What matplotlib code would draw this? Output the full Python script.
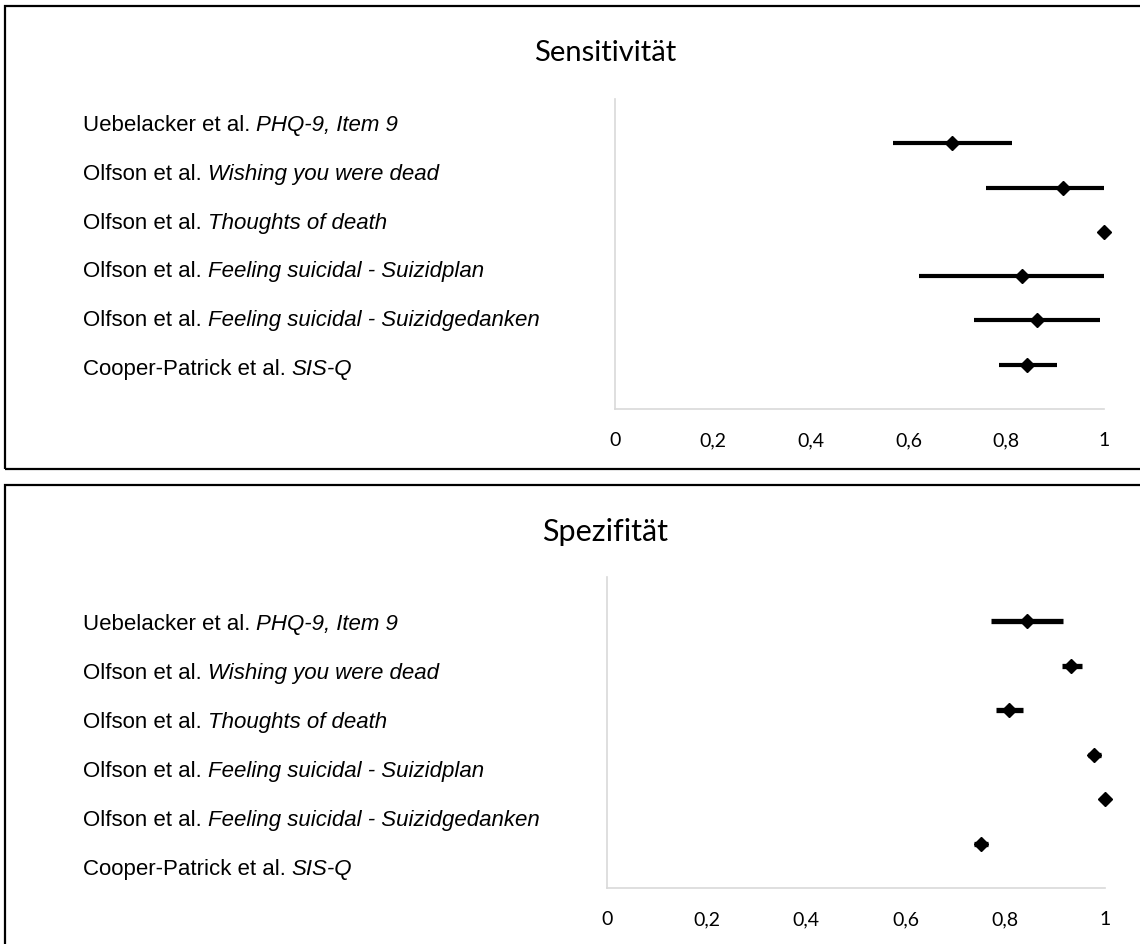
import matplotlib
matplotlib.use("Agg")
import matplotlib.pyplot as plt
from matplotlib.patches import Rectangle
from matplotlib.ticker import FuncFormatter

#data (two forest plots, same studies)
authors = ["Uebelacker et al.", "Olfson et al.", "Olfson et al.", "Olfson et al.",
           "Olfson et al.", "Cooper-Patrick et al."]
items = ["PHQ-9, Item 9", "Wishing you were dead", "Thoughts of death",
         "Feeling suicidal - Suizidplan", "Feeling suicidal - Suizidgedanken", "SIS-Q"]

sens_est = [0.689, 0.917, 1.0, 0.833, 0.862, 0.843]
sens_lo = [0.569, 0.758, 1.0, 0.621, 0.735, 0.785]
sens_hi = [0.811, 1.0, 1.0, 1.0, 0.991, 0.904]

spec_est = [0.843, 0.931, 0.808, 0.977, 1.0, 0.751]
spec_lo = [0.771, 0.913, 0.782, 0.965, 0.99, 0.737]
spec_hi = [0.915, 0.953, 0.836, 0.991, 1.0, 0.766]

xticks = [0, 0.2, 0.4, 0.6, 0.8, 1]

W, H = 1140, 945
fig = plt.figure(figsize=(W / 100, H / 100), dpi=100)

LABEL_FONT = ["Liberation Sans", "DejaVu Sans"]
EXCEL_FONT = ["Lato", "DejaVu Sans"]


def px(x, y):
    # pixel (from top-left) -> figure fraction
    return x / W, 1 - y / H


def panel(title, est, lo, hi, box, ax_box, title_y, title_size, label_y0, label_dy, lw):
    # frame round the panel
    bx0, by0, bx1, by1 = box
    fx0, fy1 = px(bx0, by0)
    fx1, fy0 = px(bx1, by1)
    fig.patches.append(Rectangle((fx0, fy0), fx1 - fx0, fy1 - fy0, transform=fig.transFigure,
                                 fill=False, edgecolor="black", linewidth=1.6, clip_on=False))

    tx, ty = px(605, title_y)
    fig.text(tx, ty, title, ha="center", va="center", fontsize=title_size, family=EXCEL_FONT)

    l, t, r, b = ax_box
    ax = fig.add_axes([l / W, 1 - b / H, (r - l) / W, (b - t) / H])
    rows = list(range(1, len(est) + 1))
    xerr = [[e - a for e, a in zip(est, lo)], [c - e for e, c in zip(est, hi)]]
    ax.errorbar(est, rows, xerr=xerr, fmt="D", color="black", markersize=7.5,
                elinewidth=lw, capsize=0, clip_on=False)
    ax.set_xlim(0, 1)
    ax.set_ylim(7, 0)
    ax.set_yticks([])
    ax.set_xticks(xticks)
    ax.xaxis.set_major_formatter(FuncFormatter(lambda v, p: ("%g" % v).replace(".", ",")))
    ax.tick_params(axis="x", length=0, pad=16, labelsize=14)
    for lab in ax.get_xticklabels():
        lab.set_family(EXCEL_FONT)
    for s in ["top", "right"]:
        ax.spines[s].set_visible(False)
    for s in ["left", "bottom"]:
        ax.spines[s].set_color("#d9d9d9")
        ax.spines[s].set_linewidth(1.2)

    # labels: author upright, item italic
    renderer = fig.canvas.get_renderer()
    for i, (a, it) in enumerate(zip(authors, items)):
        x0, yb = px(83, label_y0 + i * label_dy + 8)
        t1 = fig.text(x0, yb, a, va="baseline", fontsize=16, family=LABEL_FONT)
        bb = t1.get_window_extent(renderer)
        fig.text((bb.x1 + 6) / W, yb, it, va="baseline", fontsize=16, family=LABEL_FONT, style="italic")
    return ax


panel("Sensitivität", sens_est, sens_lo, sens_hi, (5, 7, 1150, 470),
      (615, 100, 1104, 410), 53, 21, 123, 48.8, 3.0)
panel("Spezifität", spec_est, spec_lo, spec_hi, (5, 486, 1150, 960),
      (607, 578, 1105, 889), 532, 22, 622, 49, 3.8)

plt.savefig("out.png", dpi=100)
